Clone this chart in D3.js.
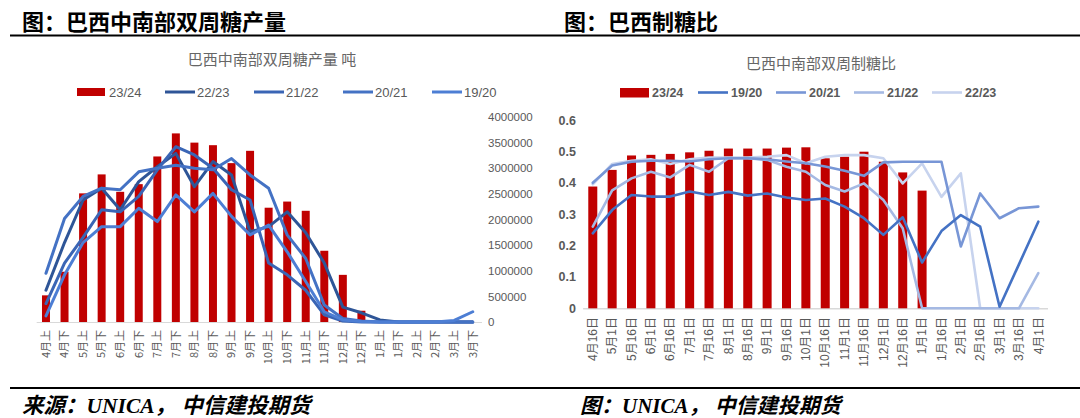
<!DOCTYPE html>
<html><head><meta charset="utf-8">
<script src="https://cdn.jsdelivr.net/npm/d3@7/dist/d3.min.js"></script>
<style>
html,body{margin:0;padding:0;background:#fff;}
svg{display:block;}
</style>
</head><body>
<svg id="c" width="1080" height="418"></svg>
<script>
// ---------- data: left chart (Brazil CS fortnightly sugar output, tonnes) ----------
const prodCats = ["4月上","4月下","5月上","5月下","6月上","6月下","7月上","7月下","8月上","8月下","9月上","9月下","10月上","10月下","11月上","11月下","12月上","12月下","1月上","1月下","2月上","2月下","3月上","3月下"];
const prod2324 = [520000,980000,2510000,2880000,2540000,2690000,3230000,3680000,3500000,3450000,3100000,3340000,2230000,2350000,2170000,1390000,920000,220000];
const prod2223 = [620000,1550000,2380000,2610000,2190000,2740000,3030000,3290000,2640000,3130000,2870000,1760000,1860000,2150000,1740000,1150000,290000,180000,40000,0,0,0,0,0];
const prod2122 = [360000,1150000,1650000,2190000,2150000,2450000,2970000,3420000,3260000,3000000,2580000,2380000,1150000,920000,620000,140000,20000,0,0,0,0,0,0,0];
const prod2021 = [950000,2020000,2450000,2610000,2580000,2930000,3000000,3060000,3000000,2970000,3190000,2870000,2610000,1700000,1240000,330000,70000,20000,0,0,0,0,0,0];
const prod1920 = [120000,920000,1550000,1860000,1860000,2220000,1960000,2480000,2150000,2510000,2060000,1700000,1890000,1370000,790000,200000,40000,10000,0,0,0,0,30000,200000];
const prodTicks = [0,500000,1000000,1500000,2000000,2500000,3000000,3500000,4000000];
const prodSeriesNames = ["22/23","21/22","20/21","19/20"];

// ---------- data: right chart (sugar mix ratio) ----------
const ratioCats = ["4月16日","5月1日","5月16日","6月1日","6月16日","7月1日","7月16日","8月1日","8月16日","9月1日","9月16日","10月1日","10月16日","11月1日","11月16日","12月1日","12月16日","1月1日","1月16日","2月1日","2月16日","3月1日","3月16日","4月1日"];
const ratio2324 = [0.388,0.441,0.487,0.489,0.492,0.497,0.502,0.509,0.509,0.509,0.512,0.513,0.478,0.483,0.499,0.467,0.433,0.375];
const ratio1920 = [0.239,0.313,0.361,0.356,0.356,0.372,0.361,0.371,0.359,0.366,0.353,0.345,0.350,0.324,0.287,0.234,0.290,0.146,0.246,0.297,0.260,0.005,0.140,0.276];
const ratio2021 = [0.400,0.455,0.467,0.470,0.470,0.468,0.475,0.478,0.478,0.475,0.468,0.462,0.452,0.438,0.422,0.465,0.467,0.467,0.467,0.197,0.366,0.287,0.319,0.324];
const ratio2122 = [0.260,0.376,0.414,0.435,0.417,0.457,0.435,0.478,0.478,0.473,0.451,0.435,0.393,0.372,0.398,0.345,0.255,0,0,0,0,0,0,0.112];
const ratio2223 = [0.395,0.460,0.470,0.475,0.460,0.475,0.480,0.480,0.480,0.483,0.488,0.462,0.483,0.488,0.488,0.478,0.398,0.462,0.355,0.430,0,0,0,0];
const ratioTicks = [0,0.1,0.2,0.3,0.4,0.5,0.6];
const ratioSeriesNames = ["19/20","20/21","21/22","22/23"];

// ---------- drawing ----------
const svg = d3.select("#c");
const CJK = "'Noto Sans CJK SC','Noto Sans',sans-serif";
const SANS = "'Liberation Sans',Arial,'Noto Sans CJK SC',sans-serif";
const RED = "#C00000";
const grey = "#595959";

// page headings and rules
svg.append("text").attr("x",22).attr("y",30).attr("font-family",CJK).attr("font-weight",700)
  .attr("font-size",22).attr("fill","#000").text("图：巴西中南部双周糖产量");
svg.append("text").attr("x",564).attr("y",30).attr("font-family",CJK).attr("font-weight",700)
  .attr("font-size",22).attr("fill","#000").text("图：巴西制糖比");
svg.append("line").attr("x1",10).attr("x2",1080).attr("y1",35.5).attr("y2",35.5).attr("stroke","#000").attr("stroke-width",2);
svg.append("line").attr("x1",10).attr("x2",1080).attr("y1",388).attr("y2",388).attr("stroke","#000").attr("stroke-width",2);
const src = "'Liberation Serif','Times New Roman','Noto Sans CJK SC',serif";
svg.append("text").attr("x",22).attr("y",413).attr("font-family",src).attr("font-weight",700).attr("font-style","italic")
  .attr("font-size",21.5).attr("fill","#000").text("来源：UNICA， 中信建投期货");
svg.append("text").attr("x",580).attr("y",413).attr("font-family",src).attr("font-weight",700).attr("font-style","italic")
  .attr("font-size",21).attr("fill","#000").text("图：UNICA， 中信建投期货");

// ================= LEFT CHART =================
(function(){
  const g = svg.append("g");
  const x = d3.scaleBand().domain(prodCats).range([36.7,482]).paddingInner(0.57).paddingOuter(0.285);
  const y = d3.scaleLinear().domain([0,4000000]).range([322,117]);
  g.append("text").attr("x",272).attr("y",65).attr("text-anchor","middle").attr("font-family",CJK)
    .attr("font-size",15).attr("fill","#666").text("巴西中南部双周糖产量 吨");
  g.append("line").attr("x1",36.7).attr("x2",482).attr("y1",y(0)+0.5).attr("y2",y(0)+0.5).attr("stroke","#D9D9D9").attr("stroke-width",1);
  const ax = d3.axisRight(y).tickValues(prodTicks).tickSize(0).tickPadding(0).tickFormat(d3.format("d"));
  const ag = g.append("g").attr("transform","translate(488,0)").call(ax);
  ag.select(".domain").remove();
  ag.selectAll("text").attr("font-family",SANS).attr("font-size",11.5).attr("fill",grey);
  const xa = d3.axisBottom(x).tickSize(0).tickPadding(0);
  const xg = g.append("g").attr("transform","translate(0,330)").call(xa);
  xg.select(".domain").remove();
  xg.selectAll("text").attr("font-family",CJK).attr("font-size",11).attr("fill",grey)
    .attr("transform","rotate(-90)").attr("text-anchor","end").attr("x",0).attr("y",0).attr("dy","0.35em");
  g.selectAll("rect.bar").data(prod2324.map((v,i)=>({c:prodCats[i],v})).filter(d=>d.v>0)).enter().append("rect")
    .attr("x",d=>x(d.c)).attr("width",x.bandwidth()).attr("y",d=>y(d.v)).attr("height",d=>y(0)-y(d.v)).attr("fill",RED);
  const series = [prod2223,prod2122,prod2021,prod1920];
  const cols = ["#2E5597","#3A65B5","#4472C4","#4D7ED4"];
  const line = d3.line().x((d,i)=>x(prodCats[i])+x.bandwidth()/2).y(d=>y(d));
  series.forEach((s,k)=>{
    g.append("path").attr("d",line(s)).attr("fill","none").attr("stroke",cols[k]).attr("stroke-width",3)
      .attr("stroke-linejoin","round").attr("stroke-linecap","round");
  });
  const lg = g.append("g").attr("font-family",SANS).attr("font-size",13).attr("fill",grey);
  lg.append("rect").attr("x",77).attr("y",88).attr("width",28).attr("height",8).attr("fill",RED);
  lg.append("text").attr("x",109).attr("y",96.5).text("23/24");
  prodSeriesNames.forEach((n,k)=>{
    const x0 = 165 + k*89;
    lg.append("line").attr("x1",x0).attr("x2",x0+30).attr("y1",92).attr("y2",92).attr("stroke",cols[k]).attr("stroke-width",3);
    lg.append("text").attr("x",x0+32).attr("y",96.5).text(n);
  });
})();

// ================= RIGHT CHART =================
(function(){
  const g = svg.append("g");
  const x = d3.scaleBand().domain(ratioCats).range([583.1,1048]).paddingInner(0.535).paddingOuter(0.2675);
  const y = d3.scaleLinear().domain([0,0.6]).range([308.3,120]);
  g.append("text").attr("x",821).attr("y",69).attr("text-anchor","middle").attr("font-family",CJK)
    .attr("font-size",15).attr("fill","#666").text("巴西中南部双周制糖比");
  g.append("line").attr("x1",583.1).attr("x2",1048).attr("y1",y(0)+0.5).attr("y2",y(0)+0.5).attr("stroke","#D9D9D9").attr("stroke-width",1.5);
  const ax = d3.axisLeft(y).tickValues(ratioTicks).tickSize(0).tickPadding(0).tickFormat(d=>d===0?"0":d3.format(".1f")(d));
  const ag = g.append("g").attr("transform","translate(576,0)").call(ax);
  ag.select(".domain").remove();
  ag.selectAll("text").attr("font-family",SANS).attr("font-size",12.5).attr("font-weight",700).attr("fill",grey);
  const xa = d3.axisBottom(x).tickSize(0).tickPadding(0);
  const xg = g.append("g").attr("transform","translate(0,317)").call(xa);
  xg.select(".domain").remove();
  xg.selectAll("text").attr("font-family",SANS).attr("font-size",12).attr("fill",grey)
    .attr("transform","rotate(-90)").attr("text-anchor","end").attr("x",0).attr("y",0).attr("dy","0.35em");
  g.selectAll("rect.bar").data(ratio2324.map((v,i)=>({c:ratioCats[i],v}))).enter().append("rect")
    .attr("x",d=>x(d.c)).attr("width",x.bandwidth()).attr("y",d=>y(d.v)).attr("height",d=>y(0)-y(d.v)).attr("fill",RED);
  const series = [ratio2223,ratio2122,ratio2021,ratio1920];
  const cols = ["#C7D3EE","#A5B9E3","#7896D6","#4472C4"];
  const line = d3.line().x((d,i)=>x(ratioCats[i])+x.bandwidth()/2).y(d=>y(d));
  series.forEach((s,k)=>{
    g.append("path").attr("d",line(s)).attr("fill","none").attr("stroke",cols[k]).attr("stroke-width",2.6)
      .attr("stroke-linejoin","round").attr("stroke-linecap","round");
  });
  const lg = g.append("g").attr("font-family",SANS).attr("font-size",12.5).attr("font-weight",700).attr("fill",grey);
  lg.append("rect").attr("x",620).attr("y",88).attr("width",29).attr("height",9.5).attr("fill",RED);
  lg.append("text").attr("x",652).attr("y",97).text("23/24");
  const legCols = ["#4472C4","#7896D6","#A5B9E3","#C7D3EE"];
  ratioSeriesNames.forEach((n,k)=>{
    const x0 = 698 + k*78;
    lg.append("line").attr("x1",x0).attr("x2",x0+30).attr("y1",92.5).attr("y2",92.5).attr("stroke",legCols[k]).attr("stroke-width",2.6);
    lg.append("text").attr("x",x0+33).attr("y",97).text(n);
  });
})();
</script>
</body></html>
